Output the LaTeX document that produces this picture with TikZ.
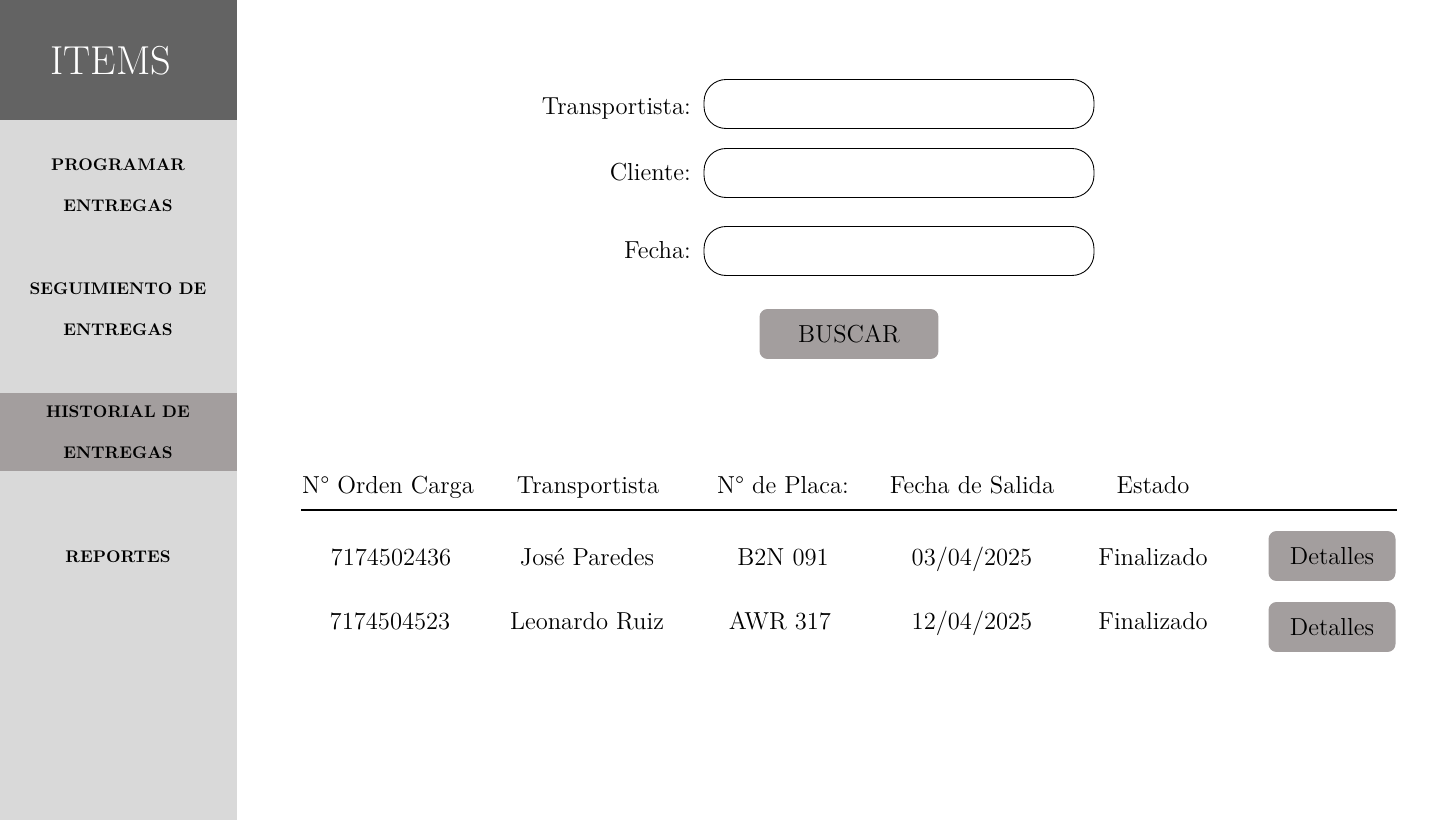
\documentclass[tikz,border=0pt]{standalone}
\usepackage{fontspec}
\usetikzlibrary{positioning}

\definecolor{sidegray}{RGB}{217,217,217}
\definecolor{headgray}{RGB}{99,99,99}
\definecolor{btngray}{RGB}{163,158,158}

\begin{document}
\begin{tikzpicture}
        [x=0.02cm, y=-0.02cm,
        menu/.style={align=center, font=\fontsize{9.6}{23.2}\selectfont\bfseries},
        label/.style={anchor=east, text height=11.9pt, text depth=2.6pt, font=\fontsize{14}{17}\selectfont},
        field/.style={draw, black, line width=0.5pt, rounded corners=0.44cm, minimum width=7.8cm, minimum height=0.98cm},
        button/.style={fill=btngray, rounded corners=0.16cm, minimum height=1cm, text height=11.9pt, text depth=2.6pt, font=\fontsize{14}{17}\selectfont},
        cell/.style={text height=11.9pt, text depth=2.6pt, font=\fontsize{14}{17}\selectfont}]

        \useasboundingbox (0,0) rectangle (1440,820);

        % sidebar
        \fill[sidegray] (0,0) rectangle (237,820);
        \fill[headgray] (0,0) rectangle (237,120);
        \fill[btngray] (0,393) rectangle (237,471);

        \node[white, font=\fontsize{23}{27}\selectfont] (items) at (111,61) {ITEMS};
        \node[menu] (programar) at (118,185) {PROGRAMAR\\ENTREGAS};
        \node[menu] (seguimiento) at (118,309) {SEGUIMIENTO DE\\ENTREGAS};
        \node[menu] (historial) at (118,432) {HISTORIAL DE\\ENTREGAS};
        \node[menu] (reportes) at (118,557) {REPORTES};

        % search form
        \node[field] (ftrans) at (899,104) {};
        \node[field] (fcliente) at (899,173) {};
        \node[field] (ffecha) at (899,251) {};
        \node[label] (ltrans) at (697,106) {Transportista:};
        \node[label] (lcliente) at (697,172) {Cliente:};
        \node[label] (lfecha) at (697,250) {Fecha:};
        \node[button, minimum width=3.58cm] (buscar) at (849,334) {BUSCAR};

        % table header
        \node[cell] (hcarga) at (388,485) {N° Orden Carga};
        \node[cell] (htrans) at (588,485) {Transportista};
        \node[cell] (hplaca) at (783,485) {N° de Placa:};
        \node[cell] (hfecha) at (972,485) {Fecha de Salida};
        \node[cell] (hestado) at (1153,485) {Estado};
        \coordinate (ruleL) at (301,510);
        \coordinate (ruleR) at (1397,510);
        \draw[line width=1.2pt] (ruleL) -- (ruleR);

        % rows
        \node[cell] (carga1) at (391,557) {7174502436};
        \node[cell] (trans1) at (587,557) {José Paredes};
        \node[cell] (placa1) at (783,557) {B2N 091};
        \node[cell] (fecha1) at (972,557) {03/04/2025};
        \node[cell] (estado1) at (1153,557) {Finalizado};
        \node[button, minimum width=2.54cm] (det1) at (1332,556) {Detalles};

        \node[cell] (carga2) at (390,621) {7174504523};
        \node[cell] (trans2) at (587,621) {Leonardo Ruiz};
        \node[cell] (placa2) at (780,621) {AWR 317};
        \node[cell] (fecha2) at (972,621) {12/04/2025};
        \node[cell] (estado2) at (1153,621) {Finalizado};
        \node[button, minimum width=2.54cm] (det2) at (1332,627) {Detalles};

        \end{tikzpicture}
\end{document}
